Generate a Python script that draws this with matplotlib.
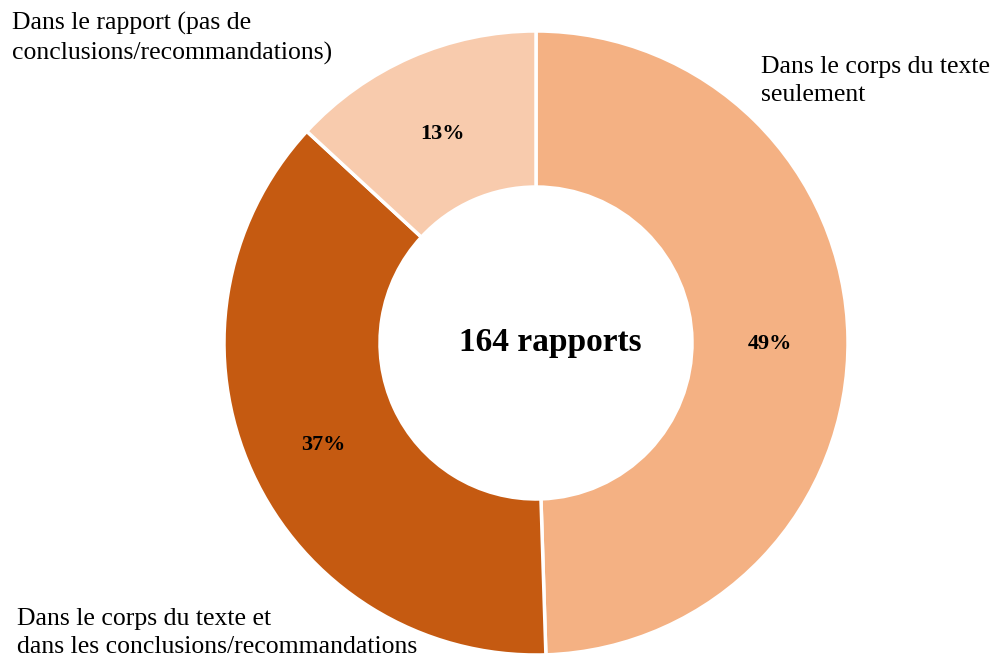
import numpy as np
import matplotlib.pyplot as plt

# share of reports per location of the mention
labels = ['Dans le corps du texte\nseulement',
          'Dans le corps du texte et\ndans les conclusions/recommandations',
          'Dans le rapport (pas de\nconclusions/recommandations)']
shares = [49, 37, 13]
colors = ['#F4B183', '#C55A11', '#F8CBAD']
total_reports = 164

plt.rcParams['font.family'] = ['Liberation Serif', 'DejaVu Serif']

W, H = 994, 658
fig = plt.figure(figsize=(W / 100, H / 100), dpi=100)
ax = fig.add_axes([0, 0, 1, 1])

cx, cy, r = 536, H - 343, 312
ax.pie(shares, colors=colors, startangle=90, counterclock=False,
       radius=r, center=(cx, cy), frame=True,
       wedgeprops=dict(width=r * 0.5, edgecolor='white', linewidth=2.5))
ax.set_xlim(0, W)
ax.set_ylim(0, H)
ax.set_aspect('equal')
ax.axis('off')

# percentage labels in the middle of the ring
tot = sum(shares)
start = 90.0
for s in shares:
    mid = np.deg2rad(start - s / tot * 360 / 2)
    start -= s / tot * 360
    ax.text(cx + 0.75 * r * np.cos(mid), cy + 0.75 * r * np.sin(mid) - 5, f'{s}%',
            ha='center', va='center', fontsize=16, fontweight='bold')

ax.text(cx + 14, cy + 1, f'{total_reports} rapports', ha='center', va='center',
        fontsize=24, fontweight='bold')

# category labels
kw = dict(ha='left', va='top', fontsize=18.5, linespacing=1.38)
ax.text(761, H - 56, labels[0], **kw)
ax.text(17, H - 608, labels[1], **kw)
ax.text(12, H - 12, labels[2], **kw)

fig.savefig('out.png', dpi=100)
